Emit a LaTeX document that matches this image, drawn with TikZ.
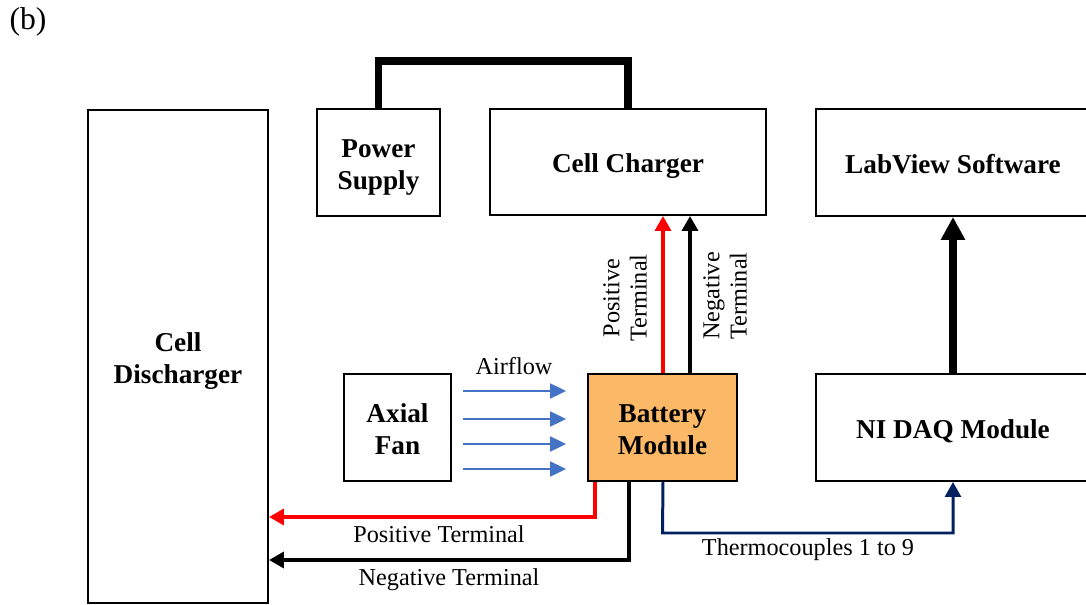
\documentclass[tikz,border=0pt]{standalone}
\usepackage{fontspec}
\setmainfont{Liberation Serif}
\usetikzlibrary{arrows.meta}
\definecolor{batteryorange}{RGB}{251,185,104}
\definecolor{airblue}{RGB}{68,114,196}
\definecolor{tcnavy}{RGB}{0,32,96}
\tikzset{
  box/.style={draw, line width=1.1pt, inner sep=0pt, align=center, text depth=0pt, text height=12.5pt,
    font=\bfseries\fontsize{15.5}{18.7}\selectfont},
  twoline/.style={text height=31.2pt},
  lbl/.style={inner sep=0pt, align=center, font=\fontsize{13.8}{15.5}\selectfont},
  redwire/.style={red, line width=2.2pt, -{Triangle[length=8.5pt,width=9pt]}},
  blackwire/.style={black, line width=2.2pt, -{Triangle[length=8.5pt,width=9pt]}},
  tcwire/.style={tcnavy, line width=1.7pt, -{Triangle[length=8.5pt,width=9pt]}},
  airarrow/.style={airblue, line width=0.9pt, -{Triangle[length=9pt,width=8.5pt]}},
  powerwire/.style={line width=4.2pt},
  dataarrow/.style={line width=4.4pt, -{Triangle[length=13pt,width=13pt]}}
}
\begin{document}
\begin{tikzpicture}[x=0.02cm, y=-0.02cm]
    \useasboundingbox (0,0) rectangle (1086,605);
    \clip (0,0) rectangle (1086,605);

    % 标号
    \node[inner sep=0pt, font=\fontsize{18}{20}\selectfont] (tag) at (28,22) {(b)};

    % 方框
    \node[box, twoline, minimum width=3.6cm, minimum height=9.86cm] (discharger) at (178,356.5) {Cell\\Discharger};
    \node[box, twoline, minimum width=2.46cm, minimum height=2.14cm] (supply) at (378.5,162.5) {Power\\Supply};
    \node[box, minimum width=5.52cm, minimum height=2.12cm] (charger) at (628,162) {Cell Charger};
    \node[box, minimum width=5.48cm, minimum height=2.14cm] (labview) at (953,162.5) {LabView Software};
    \node[box, minimum width=5.48cm, minimum height=2.14cm] (daq) at (953,427.5) {NI DAQ Module};
    \node[box, twoline, minimum width=2.14cm, minimum height=2.14cm] (fan) at (397.5,427.5) {Axial\\Fan};
    \node[box, twoline, fill=batteryorange, minimum width=2.98cm, minimum height=2.14cm] (battery) at (662.5,427.5) {Battery\\Module};

    % 电源连线
    \draw[powerwire] (supply.north) -- (supply.north |- 0,61) -| (charger.north);

    % 充电端子
    \draw[redwire] (battery.north -| 663,0) -- (charger.south -| 663,0);
    \draw[blackwire] (battery.north -| 690,0) -- (charger.south -| 690,0);
    \node[lbl, rotate=90] (chgpos) at (625,298) {Positive\\Terminal};
    \node[lbl, rotate=90] (chgneg) at (725,296) {Negative\\Terminal};

    % 气流
    \foreach \y in {391,419,444,469}
        \draw[airarrow, shorten <=0.22cm, shorten >=0.42cm] (fan.east |- 0,\y) -- (battery.west |- 0,\y);
    \node[lbl] (airflow) at (514,366) {Airflow};

    % 放电端子
    \draw[redwire] (battery.south -| 595,0) |- (discharger.east |- 0,517);
    \draw[blackwire] (battery.south -| 629,0) |- (discharger.east |- 0,560);
    \node[lbl] (dispos) at (439,534) {Positive Terminal};
    \node[lbl] (disneg) at (449,580) {Negative Terminal};

    % 热电偶
    \draw[tcwire] (battery.south -| 663,0) -- (battery.south |- 0,533) -| (daq.south);
    \node[lbl] (tclabel) at (808,550) {Thermocouples 1 to 9};

    % 数据
    \draw[dataarrow] (daq.north) -- (labview.south);
\end{tikzpicture}
\end{document}
